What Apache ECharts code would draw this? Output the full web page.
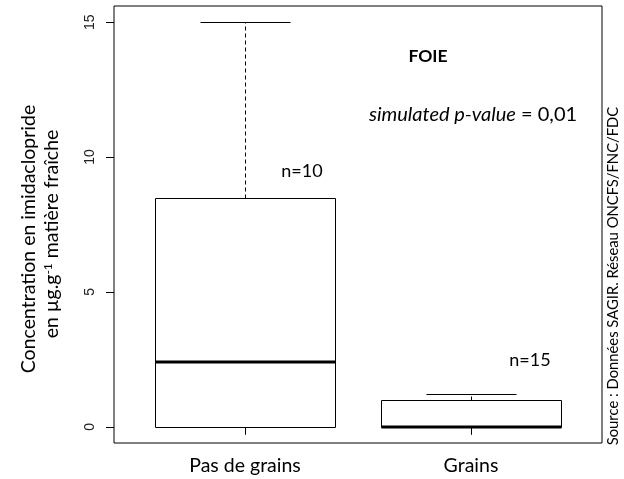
<!DOCTYPE html>
<html>
<head>
<meta charset="utf-8">
<script src="https://cdn.jsdelivr.net/npm/echarts@6/dist/echarts.min.js"></script>
<style>
  html, body { margin: 0; padding: 0; background: #fff; }
  #chart { width: 624px; height: 479px; }
</style>
</head>
<body>
<div id="chart"></div>
<script>
// Imidacloprid concentration in liver, by diet group
const categories = ['Pas de grains', 'Grains'];
const positions = [1, 2];
const whiskerLow = [0, 0];
const q1 = [0, 0];
const median = [2.4, 0];
const q3 = [8.5, 1.0];
const whiskerHigh = [15, 1.2];
const counts = [10, 15];
const yTicks = [0, 5, 10, 15];

const TEXT_FONT = 'Lato, "Open Sans", sans-serif';
const NUM_FONT = '"Liberation Sans", Arial, sans-serif';

const boxData = positions.map((p, i) => [p, whiskerLow[i], q1[i], median[i], q3[i], whiskerHigh[i]]);

const crisp = v => Math.round(v) + 0.5;

function renderBox(params, api) {
  const x = api.value(0);
  const lo = api.value(1), b1 = api.value(2), md = api.value(3), b3 = api.value(4), hi = api.value(5);
  const halfBox = 0.4, halfCap = 0.2;
  const left = crisp(api.coord([x - halfBox, 0])[0]);
  const right = crisp(api.coord([x + halfBox, 0])[0]);
  const capL = crisp(api.coord([x - halfCap, 0])[0]);
  const capR = crisp(api.coord([x + halfCap, 0])[0]);
  const cx = crisp(api.coord([x, 0])[0]);
  const y = v => crisp(api.coord([x, v])[1]);
  const line = (x1, y1, x2, y2, style) => ({
    type: 'line',
    shape: { x1, y1, x2, y2 },
    style: Object.assign({ stroke: '#000', lineWidth: 1 }, style)
  });
  const medY = Math.round(api.coord([x, md])[1]);
  return {
    type: 'group',
    children: [
      line(cx, y(b3), cx, y(hi), { lineDash: [4, 3] }),
      line(cx, y(b1), cx, y(lo), { lineDash: [4, 3] }),
      line(capL, y(hi), capR, y(hi), {}),
      line(capL, y(lo), capR, y(lo), {}),
      {
        type: 'rect',
        shape: { x: left, y: y(b3), width: right - left, height: y(b1) - y(b3) },
        style: { fill: '#fff', stroke: '#000', lineWidth: 1 }
      },
      line(left, medY, right, medY, { lineWidth: 3 })
    ]
  };
}

const chart = echarts.init(document.getElementById('chart'), null, { renderer: 'canvas' });

chart.setOption({
  animation: false,
  backgroundColor: '#fff',
  grid: {
    left: 114, right: 22, top: 6, bottom: 36,
    show: true, borderColor: '#000', borderWidth: 1, backgroundColor: 'transparent'
  },
  xAxis: {
    type: 'value',
    min: 0.42, max: 2.58,
    splitLine: { show: false },
    axisLine: { show: false },
    axisTick: { show: true, length: 8, customValues: positions, lineStyle: { color: '#000' } },
    axisLabel: {
      customValues: positions,
      formatter: v => categories[positions.indexOf(v)] || '',
      color: '#000', fontFamily: TEXT_FONT, fontSize: 19.5, margin: 13
    }
  },
  yAxis: {
    type: 'value',
    min: -0.6, max: 15.6,
    splitLine: { show: false },
    axisLine: { show: false },
    axisTick: { show: true, length: 8, customValues: yTicks, lineStyle: { color: '#000' } },
    axisLabel: {
      customValues: yTicks,
      rotate: 90,
      color: '#222', fontFamily: NUM_FONT, fontSize: 14, margin: 17
    }
  },
  series: [{
    type: 'custom',
    renderItem: renderBox,
    encode: { x: 0, y: [1, 2, 3, 4, 5] },
    data: boxData,
    clip: false
  }],
  graphic: [
    {
      type: 'text', x: 29, y: 239, rotation: Math.PI / 2,
      style: {
        text: 'Concentration en imidaclopride',
        font: '19.5px ' + TEXT_FONT, fill: '#000',
        textAlign: 'center', textVerticalAlign: 'middle'
      }
    },
    {
      type: 'text', x: 52, y: 234, rotation: Math.PI / 2,
      style: {
        text: 'en µg.g{sup|-1} matière fraîche',
        font: '19.5px ' + TEXT_FONT, fill: '#000',
        textAlign: 'center', textVerticalAlign: 'middle',
        rich: {
          sup: { fontSize: 12, fontFamily: TEXT_FONT, verticalAlign: 'top', fill: '#000' }
        }
      }
    },
    {
      type: 'text', x: 428, y: 56,
      style: {
        text: 'FOIE', font: 'bold 17.5px ' + TEXT_FONT, fill: '#000',
        textAlign: 'center', textVerticalAlign: 'middle'
      }
    },
    {
      type: 'text', x: 473, y: 115,
      style: {
        text: '{it|simulated p-value} = 0,01',
        font: '20px ' + TEXT_FONT, fill: '#000',
        textAlign: 'center', textVerticalAlign: 'middle',
        rich: { it: { fontStyle: 'italic', fontSize: 20, fontFamily: TEXT_FONT, fill: '#000' } }
      }
    },
    {
      type: 'text', x: 302, y: 171,
      style: {
        text: 'n=' + counts[0], font: '18px ' + TEXT_FONT, fill: '#000',
        textAlign: 'center', textVerticalAlign: 'middle'
      }
    },
    {
      type: 'text', x: 530, y: 360,
      style: {
        text: 'n=' + counts[1], font: '18px ' + TEXT_FONT, fill: '#000',
        textAlign: 'center', textVerticalAlign: 'middle'
      }
    },
    {
      type: 'text', x: 613, y: 276, rotation: Math.PI / 2,
      style: {
        text: 'Source : Données SAGIR. Réseau ONCFS/FNC/FDC',
        font: '14.8px ' + TEXT_FONT, fill: '#000',
        textAlign: 'center', textVerticalAlign: 'middle'
      }
    }
  ]
});
</script>
</body>
</html>
